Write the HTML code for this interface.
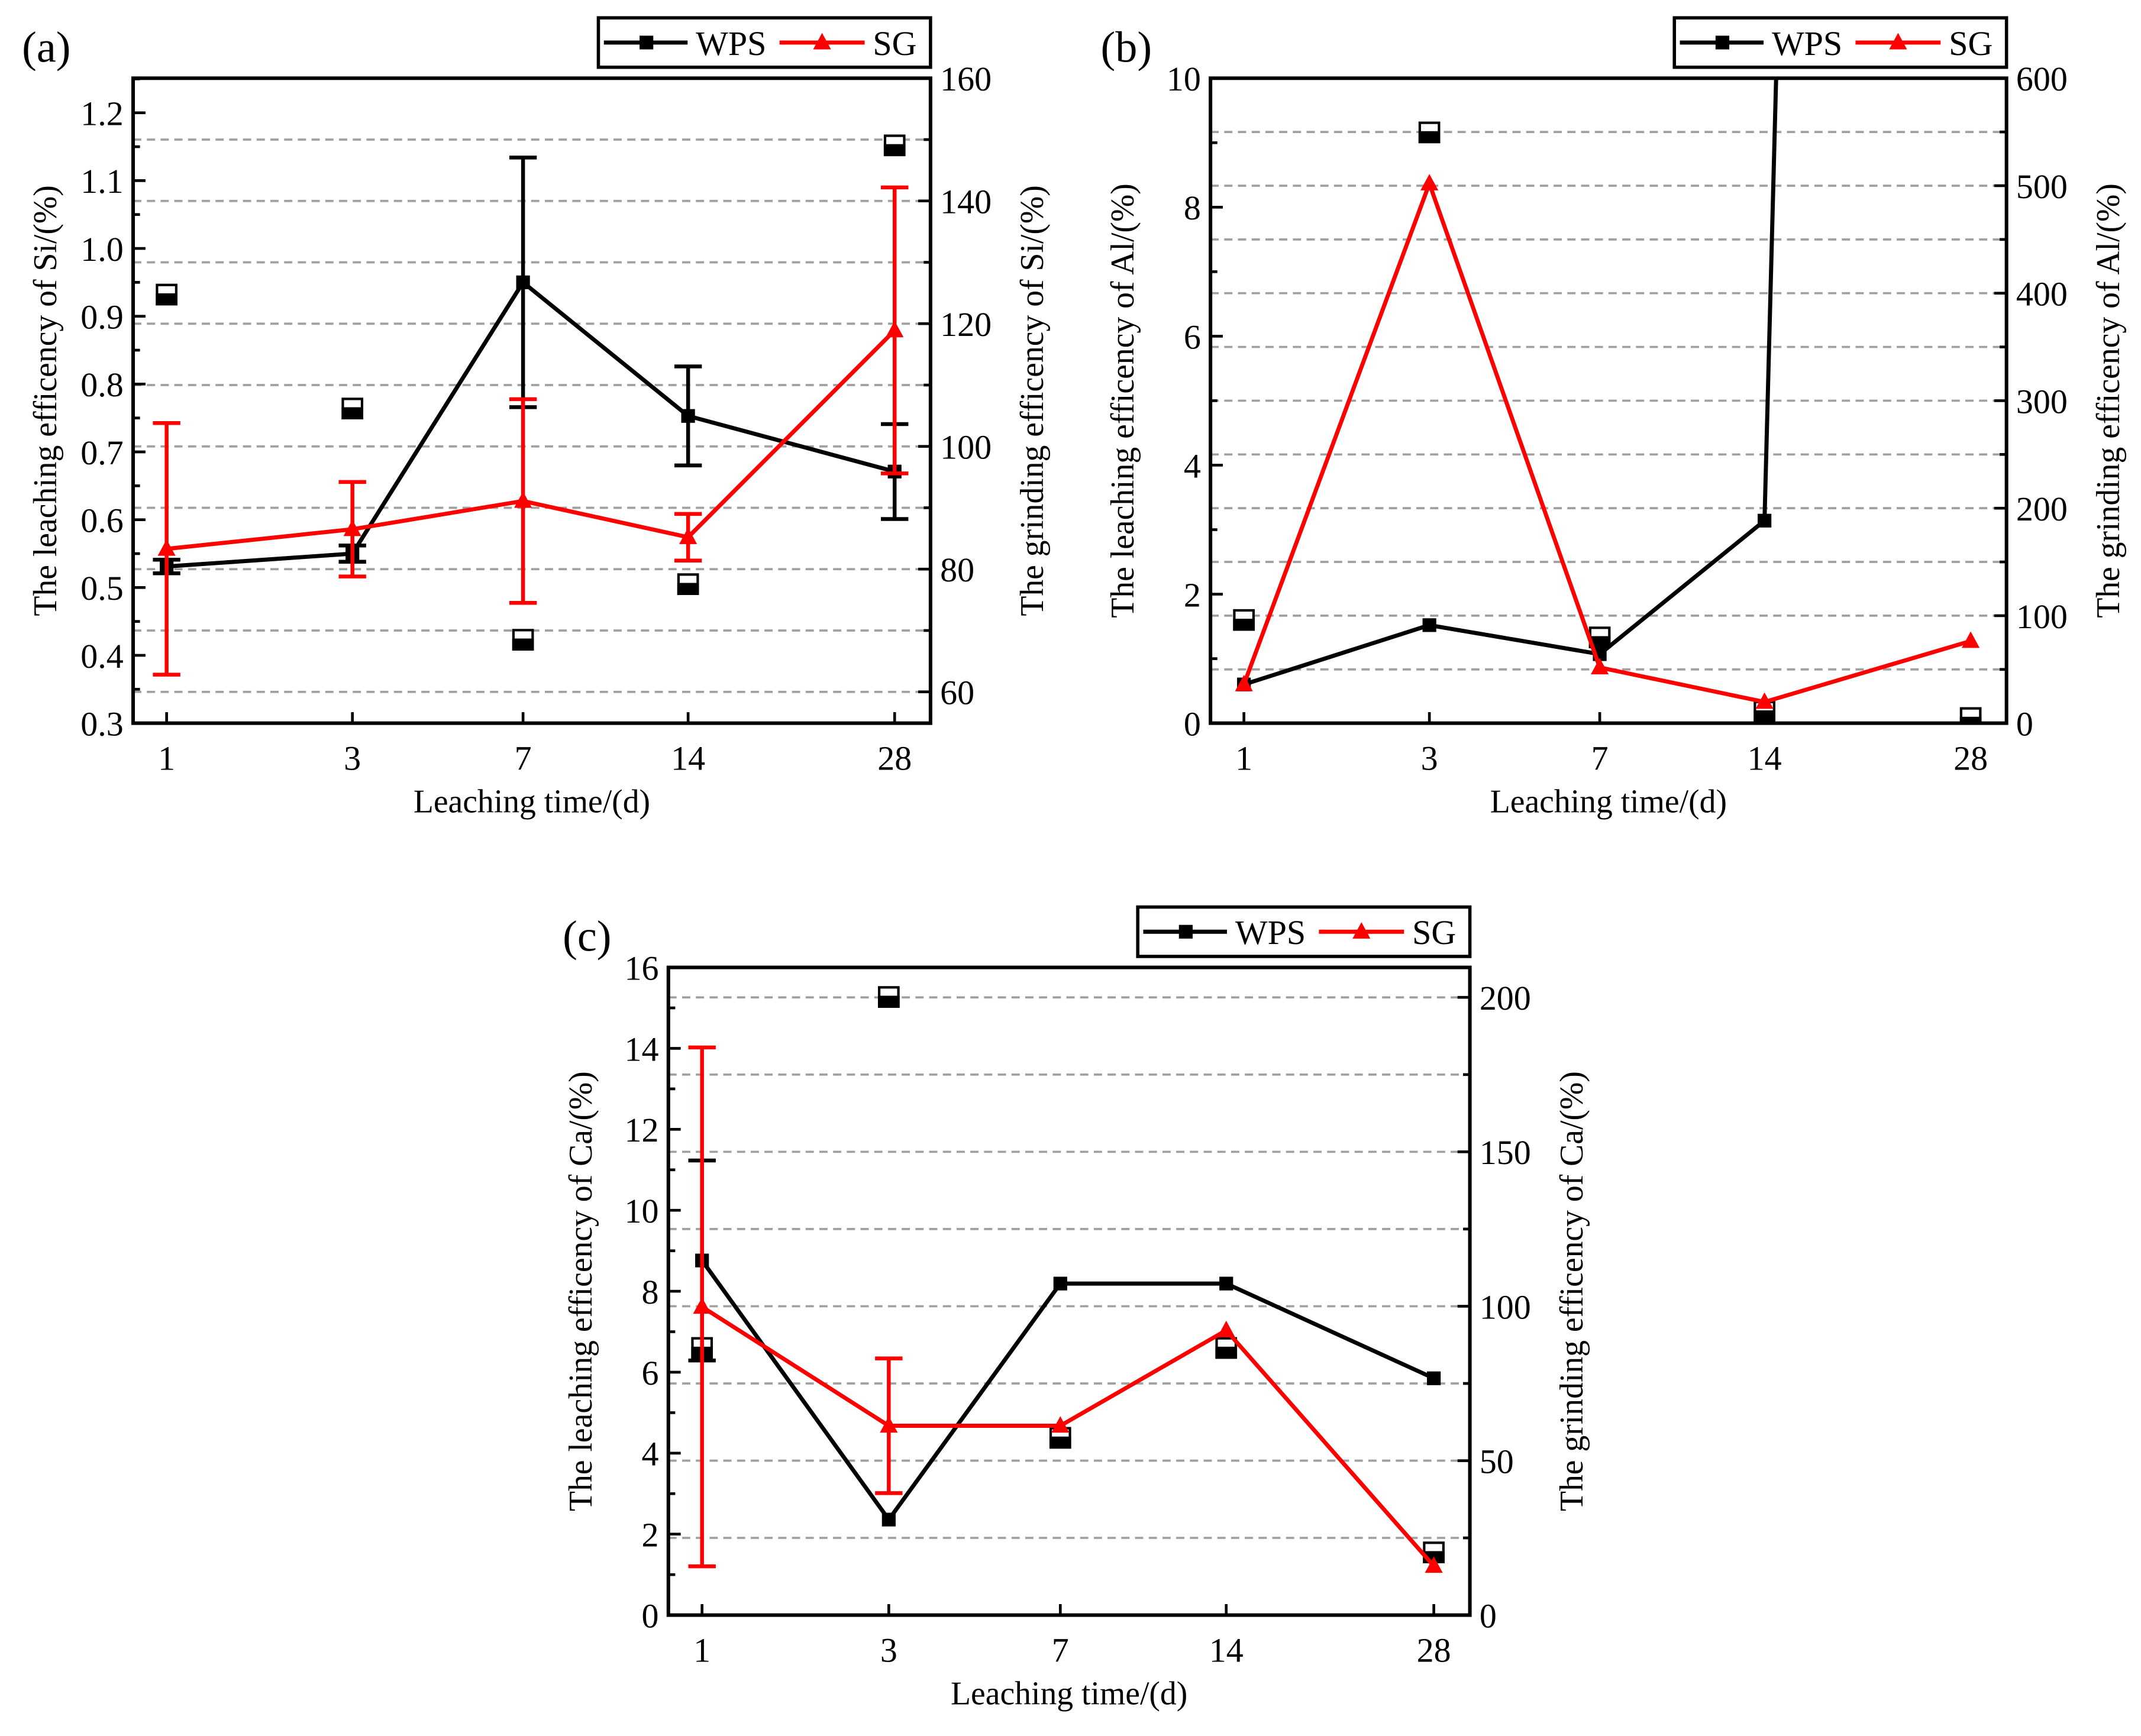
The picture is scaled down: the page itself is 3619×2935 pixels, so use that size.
<!DOCTYPE html>
<html><head><meta charset="utf-8">
<style>
html,body{margin:0;padding:0;background:#fff;}
svg{display:block;}
text{font-family:"Liberation Serif",serif;fill:#000;}
</style></head>
<body>
<svg id="fig" xmlns="http://www.w3.org/2000/svg" width="3619" height="2935" viewBox="0 0 1560 1265.1" preserveAspectRatio="none">
<rect x="0" y="0" width="1560" height="1266" fill="#fff"/>
</svg>
<script>
// ---------- data ----------
const categories = ["1","3","7","14","28"];

// Panel (a) Si
const siWps = [0.531, 0.550, 0.950, 0.753, 0.671];
const siWpsErr = [0.010, 0.012, 0.184, 0.073, 0.070];
const siSg = [83.3, 86.5, 91.1, 85.2, 118.9];
const siSgErr = [20.5, 7.7, 16.6, 3.8, 23.3];
const siHalf = [0.932, 0.764, 0.423, 0.505, 1.152];
const siLeftTicks = ["0.3","0.4","0.5","0.6","0.7","0.8","0.9","1.0","1.1","1.2"];
const siRightTicks = ["60","80","100","120","140","160"];

// Panel (b) Al
const alWps = [0.60, 1.52, 1.07, 3.14, 125];
const alSg = [36, 502, 51.8, 19.7, 76.4];
const alHalf = [1.60, 9.16, 1.33, 0.18, 0.08];
const alLeftTicks = ["0","2","4","6","8","10"];
const alRightTicks = ["0","100","200","300","400","500","600"];

// Panel (c) Ca
const caWps = [8.76, 2.36, 8.19, 8.19, 5.85];
const caWpsErr = [2.47, 0, 0, 0, 0];
const caSg = [99.8, 61.3, 61.3, 92.2, 15.9];
const caSgErr = [84, 21.8, 0, 0, 0];
const caHalf = [6.60, 15.27, 4.38, 6.60, 1.55];
const caLeftTicks = ["0","2","4","6","8","10","12","14","16"];
const caRightTicks = ["0","50","100","150","200"];

// ---------- drawing ----------
const NS = "http://www.w3.org/2000/svg";
const svg = document.getElementById('fig');
const catFrac = [0.042, 0.275, 0.489, 0.696, 0.955];

function mk(tag, attrs, parent){
  const e = document.createElementNS(NS, tag);
  for (const k in attrs) e.setAttribute(k, attrs[k]);
  (parent||svg).appendChild(e);
  return e;
}
function txt(str, attrs, parent){
  const e = mk('text', attrs, parent);
  e.textContent = str;
  return e;
}

function drawPanel(p){
  const g = mk('g', {});
  
  
  const L=p.L, R=p.R, T=p.T, B=p.B, W=R-L, H=B-T;
  const xs = i => L + catFrac[i]*W;
  const yl = v => B - (v - p.lmin)/(p.lmax - p.lmin)*H;
  const yr = v => B - (v - p.rmin)/(p.rmax - p.rmin)*H;

  // gridlines (right axis)
  for (let k = 0; ; k++){
    const v = p.rlab0 + k*p.gridStep;
    if (v > p.rmax - 1e-6) break;
    if (v <= p.rmin + 1e-6) continue;
    const ln = mk('line', {x1:L, x2:R, y1:yr(v), y2:yr(v), stroke:'#a0a0a0', 'stroke-width':1.6, 'stroke-dasharray':'6,4'}, g);
    
    
  }
  // left ticks
  for (let k = 0; ; k++){
    const v = p.lmin + k*p.lminor;
    if (v > p.lmax + 1e-9) break;
    const isMajor = k % Math.round(p.lmajor/p.lminor) === 0;
    mk('line', {x1:L, x2:L+(isMajor?9:5), y1:yl(v), y2:yl(v), stroke:'#000', 'stroke-width':2}, g);
  }
  p.leftTicks.forEach(s => {
    const t = txt(s, {x:L-7, y:yl(parseFloat(s))+9, 'font-size':25, 'text-anchor':'end'}, g);
    
    
  });
  // right ticks
  for (let k = 0; ; k++){
    const v = p.rlab0 + k*p.rminor;
    if (v > p.rmax + 1e-6) break;
    const isMajor = k % Math.round(p.rmajor/p.rminor) === 0;
    mk('line', {x1:R, x2:R-(isMajor?9:5), y1:yr(v), y2:yr(v), stroke:'#000', 'stroke-width':2}, g);
  }
  p.rightTicks.forEach(s => {
    const t = txt(s, {x:R+7, y:yr(parseFloat(s))+9, 'font-size':25}, g);
    
    
  });
  // x ticks
  categories.forEach((c,i) => {
    mk('line', {x1:xs(i), x2:xs(i), y1:B, y2:B-8, stroke:'#000', 'stroke-width':2}, g);
    const t = txt(c, {x:xs(i), y:B+34, 'font-size':25, 'text-anchor':'middle'}, g);
    
    
  });

  // clip
  const cp = mk('clipPath', {id:'clip-'+p.id}, g);
  mk('rect', {x:L, y:T, width:W, height:H}, cp);
  const dg = mk('g', {'clip-path':'url(#clip-'+p.id+')'}, g);

  // half squares
  p.half.forEach((v,i) => {
    const x = xs(i), y = yl(v), s = 14;
    const hg = mk('g', {}, dg);
    
    
    mk('rect', {x:x-s/2, y:y-s/2, width:s, height:s, fill:'#fff', stroke:'#000', 'stroke-width':1.8}, hg);
    mk('rect', {x:x-s/2, y:y, width:s, height:s/2, fill:'#000', stroke:'#000', 'stroke-width':1.8}, hg);
  });

  // WPS error bars
  if (p.wpsErr) p.wpsErr.forEach((e,i) => {
    if (!e) return;
    const x = xs(i), y1 = yl(p.wps[i]+e), y2 = yl(p.wps[i]-e);
    const eb = mk('path', {d:`M${x},${y1}V${y2}M${x-10},${y1}H${x+10}M${x-10},${y2}H${x+10}`, stroke:'#000', 'stroke-width':2.8, fill:'none'}, dg);
    
    
  });
  // WPS line
  const wl = mk('polyline', {points:p.wps.map((v,i)=>xs(i)+','+yl(v)).join(' '), stroke:'#000', 'stroke-width':3, fill:'none'}, dg);
  
  
  p.wps.forEach((v,i) => {
    const m = mk('rect', {x:xs(i)-5, y:yl(v)-5, width:10, height:10, fill:'#000'}, dg);
    
    
  });
  // SG error bars
  if (p.sgErr) p.sgErr.forEach((e,i) => {
    if (!e) return;
    const x = xs(i), y1 = yr(p.sg[i]+e), y2 = yr(p.sg[i]-e);
    const eb = mk('path', {d:`M${x},${y1}V${y2}M${x-10},${y1}H${x+10}M${x-10},${y2}H${x+10}`, stroke:'#f00', 'stroke-width':2.8, fill:'none'}, dg);
    
    
  });
  const sl = mk('polyline', {points:p.sg.map((v,i)=>xs(i)+','+yr(v)).join(' '), stroke:'#f00', 'stroke-width':3, fill:'none'}, dg);
  
  
  p.sg.forEach((v,i) => {
    const x = xs(i), y = yr(v);
    const m = mk('polygon', {points:`${x},${y-7} ${x-6.5},${y+5} ${x+6.5},${y+5}`, fill:'#f00'}, dg);
    
    
  });

  // axes box
  const box = mk('rect', {x:L, y:T, width:W, height:H, fill:'none', stroke:'#000', 'stroke-width':2.6}, g);
  
  

  // titles
  const cy = (T+B)/2;
  let t = txt(p.leftTitle, {x:0, y:0, 'font-size':24, 'text-anchor':'middle', transform:`translate(${L-56},${cy}) rotate(-90)`}, g);
  
  
  t = txt(p.rightTitle, {x:0, y:0, 'font-size':24, 'text-anchor':'middle', transform:`translate(${R+82},${cy}) rotate(-90)`}, g);
  
  
  t = txt('Leaching time/(d)', {x:(L+R)/2, y:B+65, 'font-size':24, 'text-anchor':'middle'}, g);
  
  
  t = txt(p.label, {x:p.labX, y:T-12, 'font-size':32}, g);
  
  

  // legend
  const lx = R-242, ly = T-44;
  const lg = mk('g', {}, g);
  
  
  mk('rect', {x:lx, y:ly, width:242, height:36, fill:'#fff', stroke:'#000', 'stroke-width':2.4}, lg);
  mk('line', {x1:lx+4, x2:lx+65, y1:ly+18, y2:ly+18, stroke:'#000', 'stroke-width':3}, lg);
  mk('rect', {x:lx+30, y:ly+13, width:10, height:10, fill:'#000'}, lg);
  txt('WPS', {x:lx+71, y:ly+27, 'font-size':25}, lg);
  mk('line', {x1:lx+132, x2:lx+194, y1:ly+18, y2:ly+18, stroke:'#f00', 'stroke-width':3}, lg);
  mk('polygon', {points:`${lx+163},${ly+11} ${lx+156.5},${ly+23} ${lx+169.5},${ly+23}`, fill:'#f00'}, lg);
  txt('SG', {x:lx+200, y:ly+27, 'font-size':25}, lg);
}

drawPanel({id:'a', L:97, R:678, T:57, B:527,
  lmin:0.3, lmax:1.251, lmajor:0.1, lminor:0.05, leftTicks:siLeftTicks,
  rmin:54.9, rmax:160, rmajor:20, rminor:10, rlab0:60, rightTicks:siRightTicks, gridStep:10,
  wps:siWps, wpsErr:siWpsErr, sg:siSg, sgErr:siSgErr, half:siHalf,
  leftTitle:'The leaching efficency of Si/(%)', rightTitle:'The grinding efficency of Si/(%)',
  label:'(a)', labX:16});

drawPanel({id:'b', L:882, R:1462, T:57, B:527,
  lmin:0, lmax:10, lmajor:2, lminor:1, leftTicks:alLeftTicks,
  rmin:0, rmax:600, rmajor:100, rminor:50, rlab0:0, rightTicks:alRightTicks, gridStep:50,
  wps:alWps, wpsErr:null, sg:alSg, sgErr:null, half:alHalf,
  leftTitle:'The leaching efficency of Al/(%)', rightTitle:'The grinding efficency of Al/(%)',
  label:'(b)', labX:802});

drawPanel({id:'c', L:487, R:1071, T:705, B:1177,
  lmin:0, lmax:16, lmajor:2, lminor:1, leftTicks:caLeftTicks,
  rmin:0, rmax:209.7, rmajor:50, rminor:25, rlab0:0, rightTicks:caRightTicks, gridStep:25,
  wps:caWps, wpsErr:caWpsErr, sg:caSg, sgErr:caSgErr, half:caHalf,
  leftTitle:'The leaching efficency of Ca/(%)', rightTitle:'The grinding efficency of Ca/(%)',
  label:'(c)', labX:410});
</script>
</body></html>
